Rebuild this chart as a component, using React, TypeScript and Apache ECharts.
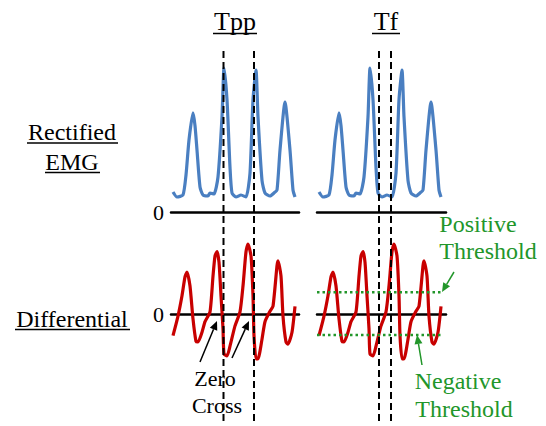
import React, { useEffect, useRef } from "react";
import * as echarts from "echarts";

// Signal samples (time in samples, amplitude in arbitrary units)
const emgTime = [2, 6, 12, 15, 18, 22, 24, 26, 29, 32, 37, 39, 43, 47, 51, 53, 56, 59, 61, 65, 70, 75, 79, 82, 85, 87, 91, 94, 99, 103, 106, 109, 114, 119, 122, 124];
const emgValue = [0.139, 0.104, 0.118, 0.257, 0.5, 0.688, 0.6, 0.43, 0.174, 0.118, 0.111, 0.132, 0.125, 0.243, 0.66, 1.0, 0.78, 0.31, 0.132, 0.104, 0.118, 0.104, 0.27, 0.78, 0.986, 0.66, 0.22, 0.132, 0.111, 0.132, 0.153, 0.43, 0.764, 0.43, 0.153, 0.104];

const diffTime = [2, 7, 11, 14, 16, 19, 22, 25, 27, 31, 34, 39, 42, 44, 46, 48, 50, 52, 53, 56, 59, 64, 69, 72, 75, 77, 80, 82, 83, 85, 87, 91, 94, 99, 102, 106, 107, 110, 112, 115, 117, 121, 124];
const diffValue = [-0.31, -0.03, 0.26, 0.53, 0.6, 0.4, -0.07, -0.39, -0.4, -0.26, -0.11, 0.03, 0.54, 0.83, 0.89, 0.74, 0.26, -0.21, -0.57, -0.6, -0.46, -0.17, 0.03, 0.4, 0.89, 1.0, 0.83, 0.26, -0.31, -0.64, -0.64, -0.36, -0.11, 0.04, 0.11, 0.69, 0.76, 0.54, -0.03, -0.4, -0.43, -0.26, 0.11];

// Markers
const tppMarkers = [52.5, 83]; // peak-to-peak times (left column)
const tfMarkers = [62, 74]; // flat (valley) times (right column)
const thresholds = [0.31, -0.3]; // positive, negative
const thresholdSpan = [0, 126];

const columnTitles = ["Tpp", "Tf"];
const rowTitles = [["Rectified", "EMG"], ["Differential"]];

const BLUE = "#4a7fc1";
const RED = "#c80000";
const GREEN = "#22962a";
const FONT = "Liberation Serif";

function pairs(t: number[], v: number[]) {
  return t.map((x, i) => [x, v[i]]);
}

function arrow(x1: number, y1: number, x2: number, y2: number, color: string, lw: number) {
  const dx = x2 - x1;
  const dy = y2 - y1;
  const len = Math.sqrt(dx * dx + dy * dy);
  const ux = dx / len;
  const uy = dy / len;
  const hl = 9;
  const hw = 4;
  const bx = x2 - ux * hl;
  const by = y2 - uy * hl;
  return [
    { type: "line", shape: { x1, y1, x2: bx, y2: by }, style: { stroke: color, lineWidth: lw }, z: 10 },
    {
      type: "polygon",
      shape: {
        points: [
          [x2, y2],
          [bx - uy * hw, by + ux * hw],
          [bx + uy * hw, by - ux * hw],
        ],
      },
      style: { fill: color },
      z: 10,
    },
  ];
}

export default function App() {
  const ref = useRef<HTMLDivElement>(null);

  useEffect(() => {
    if (!ref.current) return;
    const chart = echarts.init(ref.current, undefined, { renderer: "svg" });

    const grids = [
      { left: 171, top: 68, width: 128, height: 144 }, // 0 EMG left
      { left: 317, top: 68, width: 129, height: 144 }, // 1 EMG right
      { left: 171, top: 237, width: 128, height: 154 }, // 2 diff left
      { left: 317, top: 237, width: 129, height: 154 }, // 3 diff right
      { left: 171, top: 48, width: 128, height: 373 }, // 4 markers left
      { left: 317, top: 48, width: 129, height: 373 }, // 5 markers right
    ];

    const axisLineStyle = { show: true, onZero: true, lineStyle: { color: "#000", width: 2.5 } };
    const xAxis = grids.map((g, i) => ({
      type: "value",
      gridIndex: i,
      min: 0,
      max: g.width,
      axisLine: i < 4 ? axisLineStyle : { show: false },
      axisTick: { show: false },
      axisLabel: { show: false },
      splitLine: { show: false },
    }));
    const zeroLabel = (show: boolean) => ({
      show,
      margin: 7,
      color: "#000",
      fontFamily: FONT,
      fontSize: 22,
      formatter: (v: number) => (Math.abs(v) < 1e-9 ? "0" : ""),
    });
    const yAxis = [
      { type: "value", gridIndex: 0, min: 0, max: 1, interval: 1, axisLine: { show: false }, axisTick: { show: false }, splitLine: { show: false }, axisLabel: zeroLabel(true) },
      { type: "value", gridIndex: 1, min: 0, max: 1, interval: 1, axisLine: { show: false }, axisTick: { show: false }, splitLine: { show: false }, axisLabel: zeroLabel(false) },
      { type: "value", gridIndex: 2, min: -1.1, max: 1.1, interval: 1.1, axisLine: { show: false }, axisTick: { show: false }, splitLine: { show: false }, axisLabel: zeroLabel(true) },
      { type: "value", gridIndex: 3, min: -1.1, max: 1.1, interval: 1.1, axisLine: { show: false }, axisTick: { show: false }, splitLine: { show: false }, axisLabel: zeroLabel(false) },
      { type: "value", gridIndex: 4, min: 0, max: 1, show: false },
      { type: "value", gridIndex: 5, min: 0, max: 1, show: false },
    ];

    const emgData = pairs(emgTime, emgValue);
    const diffData = pairs(diffTime, diffValue);

    const signal = (idx: number, data: number[][], color: string) => ({
      type: "line",
      xAxisIndex: idx,
      yAxisIndex: idx,
      data,
      showSymbol: false,
      smooth: 0.2,
      clip: false,
      lineStyle: { color, width: 3.2 },
      z: 3,
    });

    const dashed = (idx: number, t: number) => ({
      type: "line",
      xAxisIndex: idx,
      yAxisIndex: idx,
      data: [[t, 0], [t, 1]],
      showSymbol: false,
      clip: false,
      lineStyle: { color: "#000", width: 2, type: [7, 4] },
      z: 4,
    });

    const thresholdSeries = thresholds.map((v) => ({
      type: "line",
      xAxisIndex: 3,
      yAxisIndex: 3,
      data: thresholdSpan.map((t) => [t, v]),
      showSymbol: false,
      clip: false,
      lineStyle: { color: GREEN, width: 2.5, type: [2.5, 3] },
      z: 5,
    }));

    const series = [
      signal(0, emgData, BLUE),
      signal(1, emgData, BLUE),
      signal(2, diffData, RED),
      signal(3, diffData, RED),
      ...tppMarkers.map((t) => dashed(4, t)),
      ...tfMarkers.map((t) => dashed(5, t)),
      ...thresholdSeries,
    ];

    const text = (s: string, x: number, y: number, size: number, color = "#000") => ({
      type: "text",
      x,
      y,
      style: { text: s, fontFamily: FONT, fontSize: size, fill: color, textAlign: "center", textVerticalAlign: "middle" },
      z: 10,
    });
    const underline = (x1: number, x2: number, y: number) => ({
      type: "line",
      shape: { x1, y1: y, x2, y2: y },
      style: { stroke: "#000", lineWidth: 1.5 },
      z: 10,
    });

    const graphic = [
      text(columnTitles[0], 235, 21, 26),
      underline(213, 257, 33.5),
      text(columnTitles[1], 386, 21, 26),
      underline(372, 400, 33.5),
      text(rowTitles[0][0], 72, 132, 24),
      underline(27, 118, 143),
      text(rowTitles[0][1], 72, 162, 24),
      underline(45, 100, 172.5),
      text(rowTitles[1][0], 72, 319, 24),
      underline(15, 130, 329.5),
      text("Zero", 215, 378, 22),
      text("Cross", 217, 405, 22),
      text("Positive", 478, 224, 24, GREEN),
      text("Threshold", 488, 251, 24, GREEN),
      text("Negative", 458, 381, 24, GREEN),
      text("Threshold", 464, 409, 24, GREEN),
      ...arrow(200, 362, 217, 321, "#000", 1.5),
      ...arrow(232, 358, 249, 321, "#000", 1.5),
      ...arrow(454, 272, 442, 292, GREEN, 1.5),
      ...arrow(422, 365, 417, 335, GREEN, 1.5),
    ];

    chart.setOption({
      animation: false,
      backgroundColor: "#fff",
      textStyle: { fontFamily: FONT },
      grid: grids.map((g) => ({ ...g, containLabel: false })),
      xAxis,
      yAxis,
      series,
      graphic,
    });

    return () => chart.dispose();
  }, []);

  return <div ref={ref} style={{ position: "absolute", left: 0, top: 0, width: 546, height: 426 }} />;
}
